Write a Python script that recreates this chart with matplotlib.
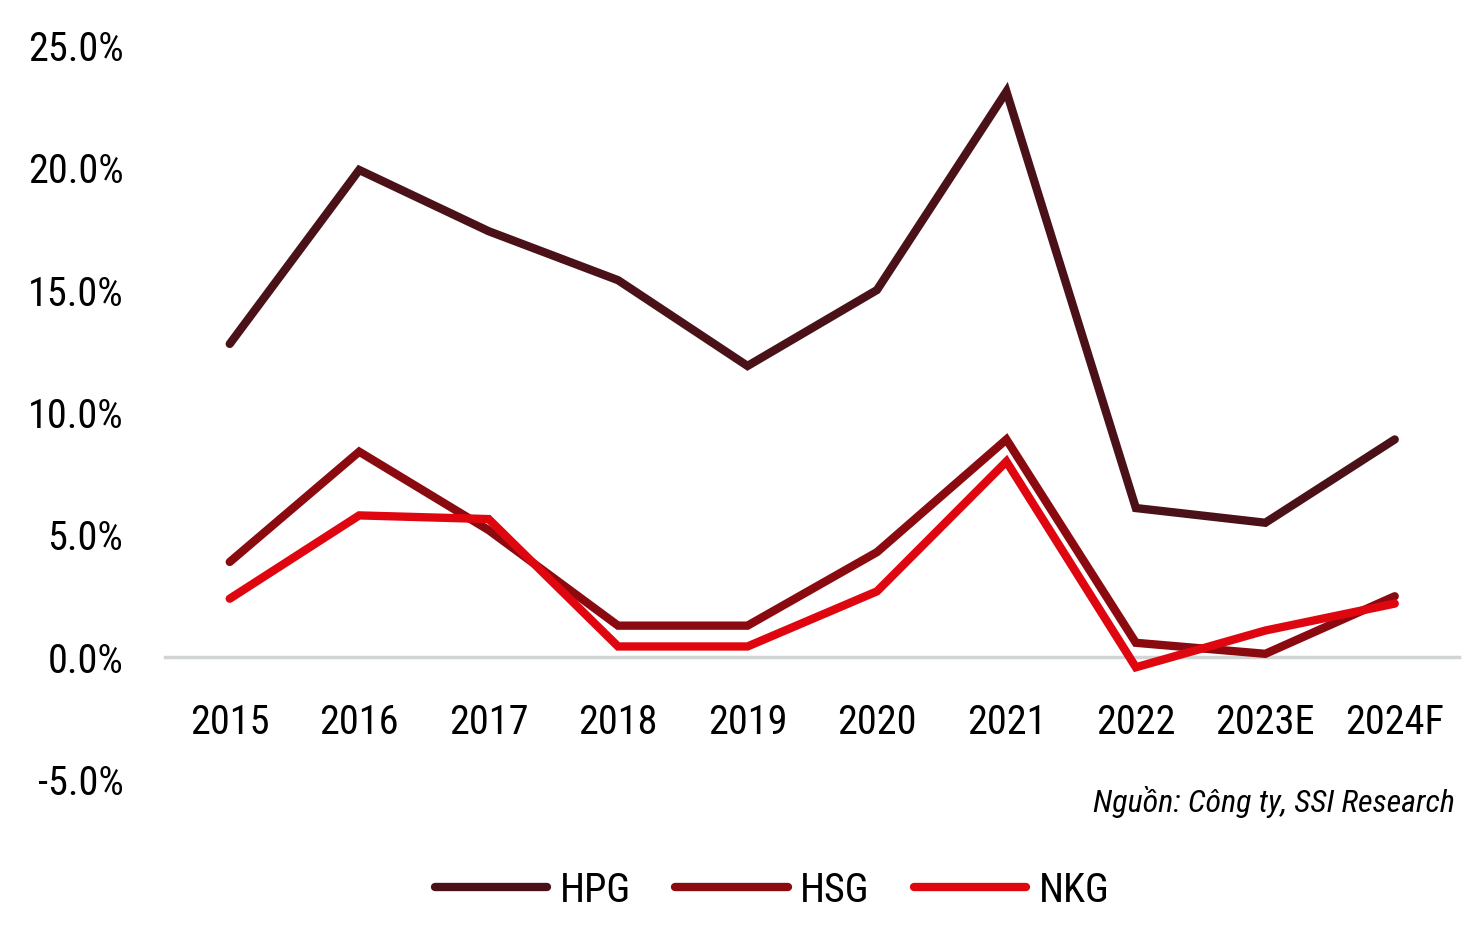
import matplotlib
matplotlib.use("Agg")
from matplotlib import pyplot as plt
from matplotlib import font_manager as fm

# pick a condensed font if one is installed
names = set(f.name for f in fm.fontManager.ttflist)
fam = "DejaVu Sans"
for c in ["Roboto Condensed", "Liberation Sans Narrow", "Arial Narrow", "Archivo Narrow",
          "PT Sans Narrow", "Open Sans Condensed", "Pragati Narrow", "Encode Sans Condensed"]:
    if c in names:
        fam = c
        break
plt.rcParams['font.family'] = [fam, 'DejaVu Sans']

years = ["2015", "2016", "2017", "2018", "2019", "2020", "2021", "2022", "2023E", "2024F"]
hpg = [12.8, 19.9, 17.4, 15.4, 11.9, 15.0, 23.1, 6.1, 5.5, 8.9]
hsg = [3.9, 8.4, 5.2, 1.3, 1.3, 4.3, 8.9, 0.6, 0.15, 2.5]
nkg = [2.4, 5.8, 5.65, 0.45, 0.45, 2.7, 8.0, -0.4, 1.1, 2.2]
yticks = [-5, 0, 5, 10, 15, 20, 25]

fig = plt.figure(figsize=(14.76, 9.3), dpi=100)
ax = fig.add_axes([0.1118, 0.1613, 0.877, 0.7903])

x = range(len(years))
ax.plot(x, hpg, color="#4a1218", lw=6, solid_capstyle="round", solid_joinstyle="miter", label="HPG")
ax.plot(x, hsg, color="#8b0a10", lw=6, solid_capstyle="round", solid_joinstyle="miter", label="HSG")
ax.plot(x, nkg, color="#e0060f", lw=6, solid_capstyle="round", solid_joinstyle="miter", label="NKG")

for s in ["top", "right", "left"]:
    ax.spines[s].set_visible(False)
ax.spines["bottom"].set_position(("data", 0))
ax.spines["bottom"].set_color("#d0d4d4")
ax.spines["bottom"].set_linewidth(2.5)
ax.spines["bottom"].set_zorder(0)

ax.set_xlim(-0.5, len(years) - 0.5)
ax.set_ylim(-5, 25)
ax.set_yticks(yticks)
ax.set_yticklabels([f"{v:.1f}%" for v in yticks])
ax.set_xticks(list(x))
ax.set_xticklabels(years)
ax.tick_params(axis="both", length=0, labelsize=29)
ax.tick_params(axis="x", pad=33)
ax.tick_params(axis="y", pad=30)

fig.text(0.986, 0.138, "Nguồn: Công ty, SSI Research", ha="right", va="center",
         fontsize=23, style="italic")

fig.legend(loc="center", bbox_to_anchor=(0.523, 0.043), ncol=3, frameon=False,
           fontsize=29, handlelength=2.8, handletextpad=0.3, columnspacing=1.1)

fig.savefig("out.png", dpi=100, facecolor="white")
